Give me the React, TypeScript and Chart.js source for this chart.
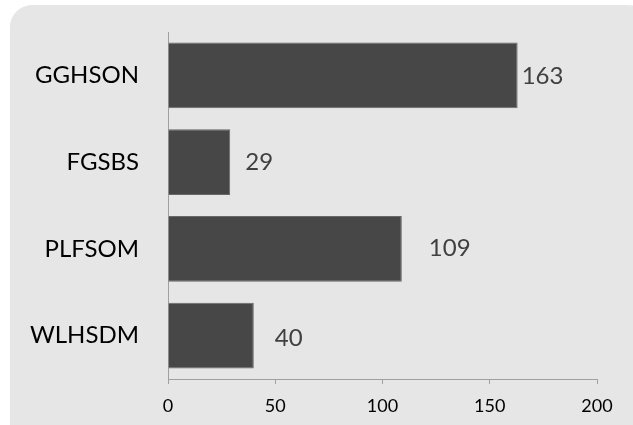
import React, { useEffect, useRef } from "react";
import { Chart, registerables } from "chart.js";

Chart.register(...registerables);

const categories = ["GGHSON", "FGSBS", "PLFSOM", "WLHSDM"];
const values = [163, 29, 109, 40];
const xTicks = [0, 50, 100, 150, 200];
const labelGaps = [4, 15, 27, 21];
const labelDy = [1, 0, -1, 3];

const FONT = "Lato, 'Open Sans', sans-serif";

const bgPlugin = {
  id: "bgRound",
  beforeDraw(chart: any) {
    const ctx = chart.ctx;
    ctx.save();
    ctx.fillStyle = "#ffffff";
    ctx.fillRect(0, 0, chart.width, chart.height);
    ctx.fillStyle = "#e6e6e6";
    ctx.beginPath();
    (ctx as any).roundRect(10, 5, 640, 440, 22);
    ctx.fill();
    ctx.restore();
  },
};

const labelPlugin = {
  id: "barLabels",
  afterDatasetsDraw(chart: any) {
    const ctx = chart.ctx;
    const meta = chart.getDatasetMeta(0);
    ctx.save();
    ctx.font = `24px ${FONT}`;
    ctx.fillStyle = "#404040";
    ctx.textAlign = "left";
    ctx.textBaseline = "middle";
    meta.data.forEach((bar: any, i: number) => {
      ctx.fillText(String(values[i]), bar.x + labelGaps[i], bar.y + labelDy[i]);
    });
    ctx.restore();
  },
};

export default function App() {
  const ref = useRef<HTMLCanvasElement>(null);
  useEffect(() => {
    document.body.style.margin = "0";
    const chart = new Chart(ref.current!, {
      type: "bar",
      data: {
        labels: categories,
        datasets: [
          {
            data: values,
            backgroundColor: "#474747",
            borderColor: "#686868",
            borderWidth: 1,
            categoryPercentage: 1,
            barPercentage: 0.76,
          },
        ],
      },
      options: {
        indexAxis: "y",
        animation: false,
        responsive: false,
        layout: { padding: { top: 32, right: 36, left: 0, bottom: 0 } },
        plugins: { legend: { display: false }, tooltip: { enabled: false } },
        scales: {
          x: {
            min: 0,
            max: 200,
            afterBuildTicks: (s: any) => {
              s.ticks = xTicks.map((v) => ({ value: v }));
            },
            afterFit: (s: any) => {
              s.height = 46;
            },
            grid: {
              drawOnChartArea: false,
              drawTicks: true,
              tickLength: 5,
              color: "#a0a0a0",
            },
            border: { display: true, color: "#a0a0a0", width: 1 },
            ticks: {
              color: "#000000",
              font: { family: FONT, size: 18 },
              padding: 11,
              maxRotation: 0,
            },
          },
          y: {
            afterFit: (s: any) => {
              s.width = 168;
              s.paddingTop = 0;
              s.paddingBottom = 0;
            },
            grid: { display: false, drawTicks: false },
            border: { display: true, color: "#a0a0a0", width: 1 },
            ticks: {
              color: "#000000",
              font: { family: FONT, size: 24 },
              padding: 29,
            },
          },
        },
      },
      plugins: [bgPlugin, labelPlugin],
    });
    return () => chart.destroy();
  }, []);
  return (
    <div style={{ width: 633, height: 425 }}>
      <canvas ref={ref} width={633} height={425} />
    </div>
  );
}
